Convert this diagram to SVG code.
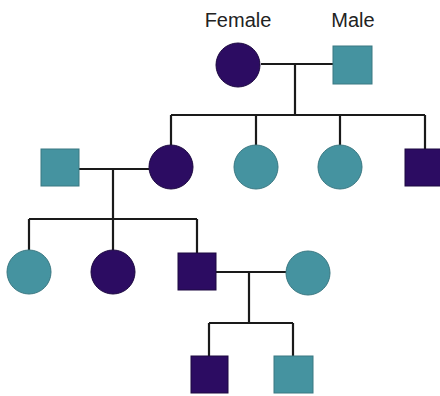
<svg xmlns="http://www.w3.org/2000/svg" width="440" height="396" viewBox="0 0 440 396">
<style>
.f{fill:#2c0c62;stroke:#1c0840;stroke-width:1}
.t{fill:#4593a0;stroke:#3a7882;stroke-width:1}
.l{stroke:#1a1a1a;stroke-width:2.2;fill:none}
.lab{font-family:"Liberation Sans",Arial,sans-serif;font-size:20px;fill:#222;text-anchor:middle}
</style>
<rect width="440" height="396" fill="#ffffff"/>
<g id="labels">
<text class="lab" x="238" y="27">Female</text>
<text class="lab" x="353" y="27">Male</text>
</g>
<g id="connectors">
<path class="l" d="M261 64H333M295 64V115M171 115H425M171 115V145M256 115V145M340 115V145M425 115V149"/>
<path class="l" d="M79 169H149M113 169V219M29 219H197M29 219V250M113 219V250M197 219V253"/>
<path class="l" d="M216 272H286M249 272V323M209 323H293M209 323V356M293 323V356"/>
</g>
<g id="gen1-female"><circle class="f" cx="238" cy="65" r="22"/></g>
<g id="gen1-male"><rect class="t" x="333" y="46" width="39" height="38"/></g>
<g id="gen2-spouse"><rect class="t" x="41" y="149" width="38" height="37"/></g>
<g id="gen2-d1"><circle class="f" cx="171" cy="167" r="22"/></g>
<g id="gen2-d2"><circle class="t" cx="256" cy="167" r="22"/></g>
<g id="gen2-d3"><circle class="t" cx="340" cy="167" r="22"/></g>
<g id="gen2-s1"><rect class="f" x="405" y="149" width="38" height="37"/></g>
<g id="gen3-d1"><circle class="t" cx="29" cy="272" r="22"/></g>
<g id="gen3-d2"><circle class="f" cx="113" cy="272" r="22"/></g>
<g id="gen3-s1"><rect class="f" x="178" y="253" width="38" height="37"/></g>
<g id="gen3-spouse"><circle class="t" cx="308" cy="273" r="22"/></g>
<g id="gen4-s1"><rect class="f" x="191" y="356" width="37" height="37"/></g>
<g id="gen4-s2"><rect class="t" x="274" y="356" width="39" height="37"/></g>
</svg>
